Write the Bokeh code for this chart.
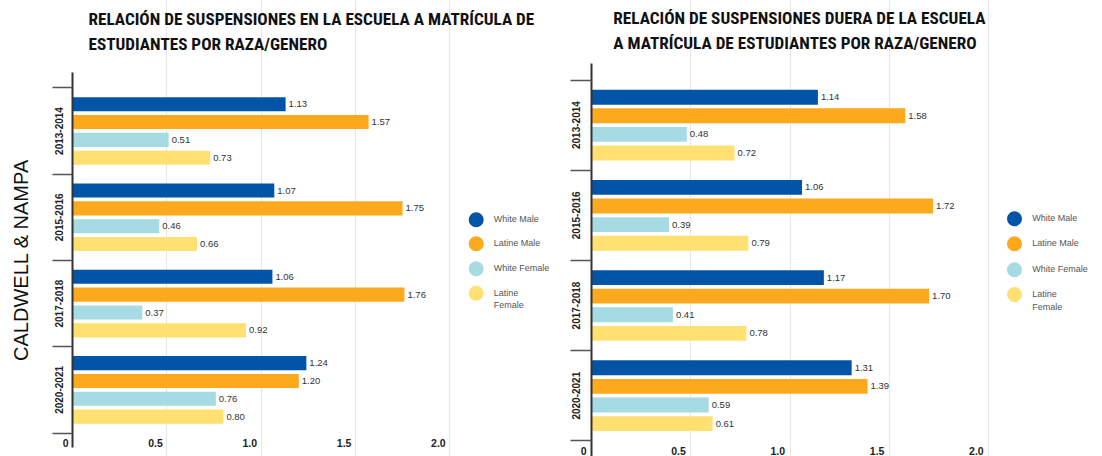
from bokeh.plotting import figure
from bokeh.models import FixedTicker, Range1d
from bokeh.layouts import row
from bokeh.embed import file_html
from bokeh.resources import INLINE
from bokeh.core.properties import value

# ---------------- data ----------------
years = ["2013-2014", "2015-2016", "2017-2018", "2020-2021"]
series_names = ["White Male", "Latine Male", "White Female", "Latine Female"]
legend_labels = ["White Male", "Latine Male", "White Female", "Latine\nFemale"]
colors = ["#0254a7", "#fca91d", "#a6dbe3", "#ffe070"]

in_white_male = [1.13, 1.07, 1.06, 1.24]
in_latine_male = [1.57, 1.75, 1.76, 1.20]
in_white_female = [0.51, 0.46, 0.37, 0.76]
in_latine_female = [0.73, 0.66, 0.92, 0.80]

out_white_male = [1.14, 1.06, 1.17, 1.31]
out_latine_male = [1.58, 1.72, 1.70, 1.39]
out_white_female = [0.48, 0.39, 0.41, 0.59]
out_latine_female = [0.72, 0.79, 0.78, 0.61]

x_ticks = [0.0, 0.5, 1.0, 1.5, 2.0]
x_tick_labels = ["0", "0.5", "1.0", "1.5", "2.0"]

title_in_lines = ["RELACIÓN DE SUSPENSIONES EN LA ESCUELA A MATRÍCULA DE",
                  "ESTUDIANTES POR RAZA/GENERO"]
title_out_lines = ["RELACIÓN DE SUSPENSIONES DUERA DE LA ESCUELA",
                   "A MATRÍCULA DE ESTUDIANTES POR RAZA/GENERO"]
side_label = "CALDWELL & NAMPA"

BODY_FONT = "Liberation Sans"
TITLE_FONT = "'Roboto Condensed', 'Oswald', 'Liberation Sans'"


def make_chart(series_values, title_lines, *, width, height, px_x, px_y, x_start,
               y_top, axis_top, axis_bottom, group_step, bar_h, label_y, legend_x,
               legend_text_x, legend_ys, title_x, title_ys, title_size,
               year_standoff, sep_len, tick_label_dx, axis_label=None,
               axis_label_standoff=0):
    x_end = x_start + width / px_x
    y_bottom = y_top + height / px_y
    p = figure(width=width, height=height,
               min_border_left=0, min_border_right=0,
               min_border_top=0, min_border_bottom=0,
               x_range=Range1d(x_start, x_end), y_range=Range1d(y_bottom, y_top),
               x_axis_location=None, output_backend="svg",
               toolbar_location=None)
    p.outline_line_color = None
    p.background_fill_color = "white"
    p.border_fill_color = "white"

    # grid
    p.xgrid.ticker = FixedTicker(ticks=x_ticks[1:])
    p.xgrid.grid_line_color = "#e6e6e6"
    p.xgrid.grid_line_width = 1
    p.xgrid.bounds = (axis_top, axis_bottom)
    p.ygrid.grid_line_color = None

    n_groups = len(years)
    centers = [g * group_step + 1.5 for g in range(n_groups)]
    seps = [c - group_step / 2 for c in centers] + [centers[-1] + group_step / 2]

    ax = p.yaxis[0]
    ax.fixed_location = 0
    ax.bounds = (axis_top, axis_bottom)
    ax.ticker = FixedTicker(ticks=centers, minor_ticks=seps)
    ax.major_label_overrides = {c: yr for c, yr in zip(centers, years)}
    ax.major_label_orientation = "vertical"
    ax.major_tick_out = 0
    ax.major_tick_in = 0
    ax.major_tick_line_color = None
    ax.minor_tick_out = sep_len
    ax.minor_tick_in = 0
    ax.minor_tick_line_color = "#555555"
    ax.minor_tick_line_width = 1.5
    ax.axis_line_color = "#333333"
    ax.axis_line_width = 2
    ax.major_label_text_font = BODY_FONT
    ax.major_label_text_font_style = "bold"
    ax.major_label_text_font_size = "10px"
    ax.major_label_text_color = "#222222"
    ax.major_label_standoff = year_standoff
    if axis_label:
        ax.axis_label = axis_label
        ax.axis_label_text_font = BODY_FONT
        ax.axis_label_text_font_style = "normal"
        ax.axis_label_text_font_size = "20px"
        ax.axis_label_text_color = "#111111"
        ax.axis_label_standoff = axis_label_standoff

    # title
    p.text(x=[title_x] * len(title_lines), y=title_ys, text=title_lines,
           text_baseline="middle", text_align="left",
           text_font=value(TITLE_FONT), text_font_style="bold",
           text_font_size=title_size, text_color="#111111")

    # bars + value labels
    for k, vals in enumerate(series_values):
        ys = [g * group_step + k for g in range(n_groups)]
        p.hbar(y=ys, left=0, right=vals, height=bar_h, fill_color=colors[k],
               line_color=None)
        p.text(x=vals, y=ys, text=[f"{v:.2f}" for v in vals], x_offset=3,
               text_baseline="middle", text_align="left",
               text_font=value(BODY_FONT), text_font_size="9.5px",
               text_color="#333333")

    # x tick labels
    p.text(x=x_ticks, y=[label_y] * len(x_ticks), text=x_tick_labels,
           text_align="right", text_baseline="middle", x_offset=tick_label_dx,
           text_font=value(BODY_FONT), text_font_style="bold",
           text_font_size="10.5px", text_color="#222222")

    # legend
    p.scatter(x=[legend_x] * 4, y=legend_ys, size=15, marker="circle",
              fill_color=colors, line_color=None)
    p.text(x=[legend_text_x] * 4, y=legend_ys, text=legend_labels,
           text_baseline="top", text_align="left", y_offset=-5.5,
           text_font=value(BODY_FONT), text_font_size="9px",
           text_color="#555555", text_line_height=1.25)
    return p


left = make_chart(
    [in_white_male, in_latine_male, in_white_female, in_latine_female], title_in_lines,
    width=560, height=456, px_x=188.6, px_y=17.85, x_start=-72 / 188.6,
    y_top=-5.8095, axis_top=-1.793, axis_bottom=19.216, group_step=4.835,
    bar_h=0.79, label_y=18.99, legend_x=2.1405, legend_text_x=2.2338,
    legend_ys=[6.476, 7.821, 9.221, 10.588],
    title_x=0.0848, title_ys=[-4.784, -3.384], title_size="17.2px",
    year_standoff=-11, sep_len=20, tick_label_dx=-4,
    axis_label=side_label, axis_label_standoff=21)

right = make_chart(
    [out_white_male, out_latine_male, out_white_female, out_latine_female], title_out_lines,
    width=542, height=456, px_x=198.6, px_y=18.6, x_start=-31 / 198.6,
    y_top=-5.199, axis_top=-1.796, axis_bottom=19.3, group_step=4.849, bar_h=0.8,
    label_y=19.048, legend_x=2.1299, legend_text_x=2.219,
    legend_ys=[6.538, 7.882, 9.28, 10.608],
    title_x=0.1098, title_ys=[-4.242, -2.898], title_size="17.2px",
    year_standoff=-10, sep_len=21, tick_label_dx=-5)

layout = row(left, right)
open("out.html", "w").write(file_html(layout, INLINE))
